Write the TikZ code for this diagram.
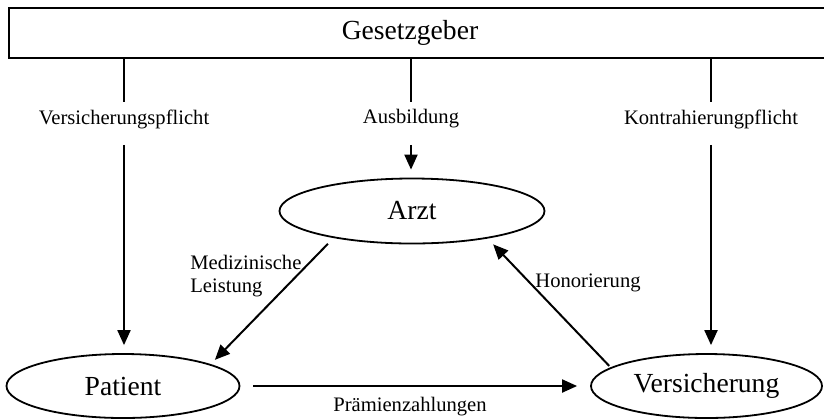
\documentclass[tikz,border=0pt]{standalone}
\usepackage{fontspec}
\setmainfont{Liberation Serif}
\usetikzlibrary{arrows.meta,shapes.geometric}

\begin{document}
\begin{tikzpicture}[x=0.5pt,y=-0.5pt,
    party/.style={shape=ellipse,draw=black,line width=0.9pt,inner sep=0pt,font=\fontsize{13.8}{16}\selectfont},
    duty/.style={inner sep=2pt,font=\fontsize{10.3}{11.5}\selectfont},
    flow/.style={-{Triangle[length=7.5pt,width=6.5pt]},line width=1pt}]
    \useasboundingbox (0,0) rectangle (824,419);

    \node[draw=black, line width=1pt, minimum width=411pt, minimum height=25pt, font=\fontsize{13.8}{16}\selectfont] (G) at (419.5,33) {\hspace*{-9.5pt}Gesetzgeber};
    \node[party, minimum width=132.5pt, minimum height=32.5pt] (A) at (412,211) {Arzt};
    \node[party, minimum width=116.5pt, minimum height=32pt] (P) at (123,386) {Patient};
    \node[party, minimum width=115.5pt, minimum height=32pt] (V) at (706.5,386) {Versicherung};

    \node[duty] (VP) at (124,119) {Versicherungspflicht};
    \node[duty] (AB) at (411,119) {Ausbildung};
    \node[duty] (KP) at (711,119) {Kontrahierungpflicht};
    \node[duty, align=left, anchor=west] (ML) at (186,276) {Medizinische\\Leistung};
    \node[duty] (HO) at (588,283) {Honorierung};
    \node[duty] (PZ) at (410,407) {Prämienzahlungen};

    \path [-,line width=1pt](G.south -| VP) edge ([yshift=1.5pt]VP.north);
    \path [-,line width=1pt](G.south -| AB) edge ([yshift=1.5pt]AB.north);
    \path [-,line width=1pt](G.south -| KP) edge ([yshift=1.5pt]KP.north);
    \path [flow, shorten <=6pt, shorten >=4pt](VP.south) edge (P.north -| VP);
    \path [flow, shorten <=6pt, shorten >=4pt](AB.south) edge (A.north -| AB);
    \path [flow, shorten <=6pt, shorten >=4pt](KP.south) edge (V.north -| KP);
    \path [flow, shorten <=4pt, shorten >=3pt](A.199) edge (P.14.5);
    \path [flow, shorten <=1pt, shorten >=4pt](V.169) edge (A.340);
    \path [flow, shorten <=6.5pt, shorten >=6.5pt](P) edge (V);

\end{tikzpicture}
\end{document}
